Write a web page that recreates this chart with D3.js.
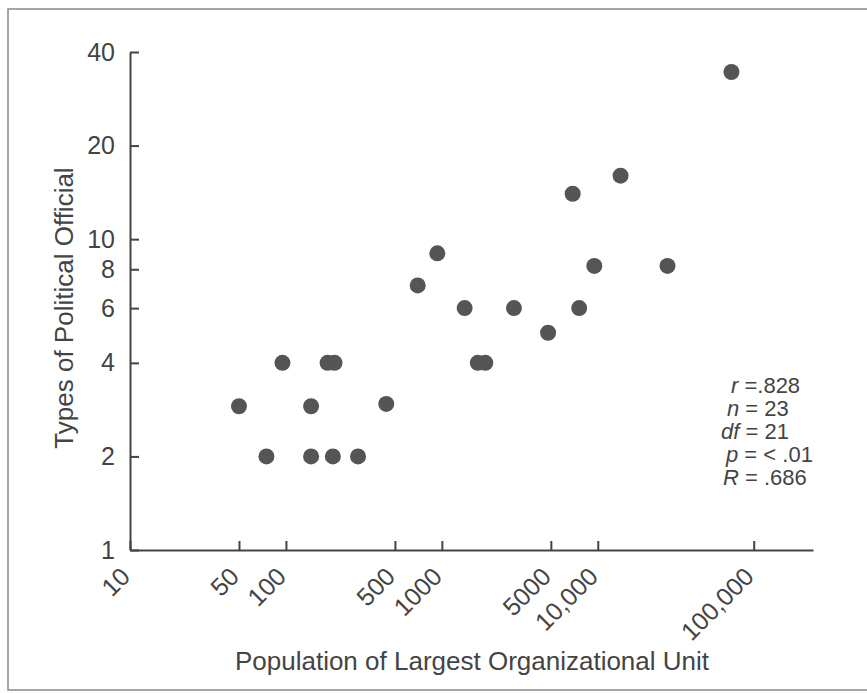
<!DOCTYPE html>
<html>
<head>
<meta charset="utf-8">
<script src="https://cdn.jsdelivr.net/npm/d3@7"></script>
<style>
body{margin:0;background:#fff;}
svg text{font-family:"Liberation Sans",Arial,Helvetica,sans-serif;fill:#444;}
</style>
</head>
<body>
<div id="graph"></div>
<script>
// data
var population=[50,75,95,145,145,185,205,200,290,440,700,935,1400,1700,1900,2900,4800,6900,7600,9500,14000,28000,72000];
var officials=[2.9,2,4,2.9,2,4,4,2,2,2.95,7.1,9,6,4,4,6,5,14,6,8.2,16,8.2,34.5];
var xTicks=[10,50,100,500,1000,5000,10000,100000];
var xTickLabels=["10","50","100","500","1000","5000","10,000","100,000"];
var yTicks=[1,2,4,6,8,10,20,40];
var statLabels=["r","n","df","p","R"];
var statValues=[" =.828"," = 23"," = 21"," = < .01"," = .686"];

var width=867,height=693;
var padL=130,padR=813,padT=52,padB=550;

var svg=d3.select("#graph").append("svg").attr("width",width).attr("height",height);

// frame round the figure
svg.append("path")
	.attr("d","M867,9H8V690H867")
	.attr("fill","none").attr("stroke","#888").attr("stroke-width",1.5);

var x=d3.scaleLog().domain([10,240000]).range([padL,padR]);
var y=d3.scaleLog().domain([1,40]).range([padB,padT]);

//x axis
var gx=svg.append("g").attr("transform","translate(0,"+padB+")")
	.call(d3.axisBottom(x).tickValues(xTicks).tickSizeInner(-9).tickSizeOuter(0)
		.tickFormat(function(d,i){return xTickLabels[i];}));
gx.selectAll("text")
	.attr("font-size",25)
	.attr("text-anchor","end")
	.attr("y",0).attr("dy","0.35em")
	.attr("transform","translate(-5,22) rotate(-45)");

//y axis
var gy=svg.append("g").attr("transform","translate("+padL+",0)")
	.call(d3.axisLeft(y).tickValues(yTicks).tickSizeInner(-9).tickSizeOuter(0).tickPadding(15)
		.tickFormat(d3.format("d")));
gy.selectAll("text").attr("font-size",25);

svg.selectAll(".domain,.tick line").attr("stroke","#444").attr("stroke-width",2);
svg.selectAll(".tick text").attr("fill","#444");

//points
svg.append("g").selectAll("circle")
	.data(population).enter().append("circle")
	.attr("cx",function(d){return x(d);})
	.attr("cy",function(d,i){return y(officials[i]);})
	.attr("r",8)
	.attr("fill","#555");

//axis titles
svg.append("text").text("Population of Largest Organizational Unit")
	.attr("x",472).attr("y",670).attr("text-anchor","middle").attr("font-size",26);
svg.append("text").text("Types of Political Official")
	.attr("transform","translate(73,308) rotate(-90)")
	.attr("text-anchor","middle").attr("font-size",26);

//statistics box
var statX=[731,727,721,726,723];
var st=svg.append("g").selectAll("text").data(statLabels).enter().append("text")
	.attr("x",function(d,i){return statX[i];})
	.attr("y",function(d,i){return 393+i*23;})
	.attr("font-size",22);
st.append("tspan").attr("font-style","italic").text(function(d){return d;});
st.append("tspan").text(function(d,i){return statValues[i];});
</script>
</body>
</html>
